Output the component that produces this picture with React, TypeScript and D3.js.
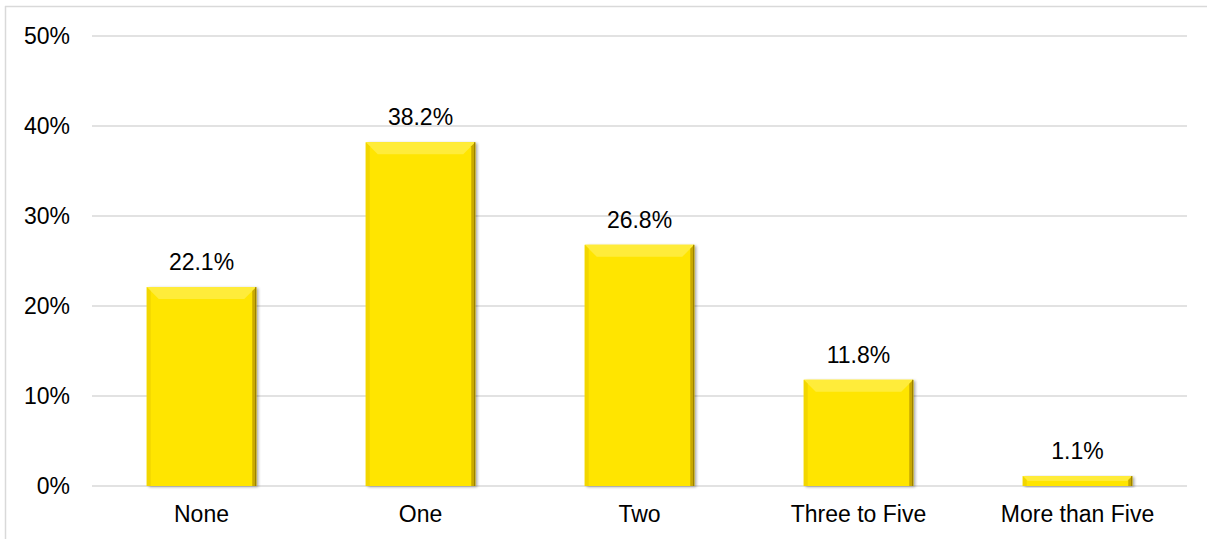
import React from "react";
import * as d3 from "d3";

const categories = ["None", "One", "Two", "Three to Five", "More than Five"];
const values = [22.1, 38.2, 26.8, 11.8, 1.1];
const yTicks = [0, 10, 20, 30, 40, 50];

const W = 1207;
const H = 539;
const M = { left: 92, right: 20, top: 36, bottom: 53 };

export default function App() {
  const x = d3
    .scaleBand<string>()
    .domain(categories)
    .range([M.left, W - M.right])
    .paddingInner(0.5)
    .paddingOuter(0.25);
  const y = d3.scaleLinear().domain([0, 50]).range([H - M.bottom, M.top]);
  const font = "'Liberation Sans', Arial, sans-serif";
  const fs = 23;

  return (
    <svg
      width={W}
      height={H}
      style={{ position: "absolute", left: 0, top: 0, background: "#fff" }}
      fontFamily={font}
    >
      <defs>
        <filter id="sh" x="-20%" y="-20%" width="140%" height="140%">
          <feGaussianBlur in="SourceAlpha" stdDeviation="1.5" />
          <feOffset dx="1.5" dy="1" result="b" />
          <feComponentTransfer>
            <feFuncA type="linear" slope="0.35" />
          </feComponentTransfer>
          <feMerge>
            <feMergeNode />
            <feMergeNode in="SourceGraphic" />
          </feMerge>
        </filter>
      </defs>
      {/* frame */}
      <line x1={5.5} x2={5.5} y1={6} y2={H} stroke="#d9d9d9" strokeWidth={1.5} />
      <line x1={5} x2={W} y1={6.5} y2={6.5} stroke="#d9d9d9" strokeWidth={1.5} />
      {/* gridlines */}
      {yTicks.map((t) => (
        <g key={t}>
          <line
            x1={M.left}
            x2={W - M.right}
            y1={y(t)}
            y2={y(t)}
            stroke="#d9d9d9"
            strokeWidth={1.5}
          />
          <text
            x={70}
            y={y(t) + 7.5}
            textAnchor="end"
            fontSize={fs}
            fill="#000"
          >
            {t}%
          </text>
        </g>
      ))}
      {/* bars */}
      {categories.map((c, i) => {
        const x0 = x(c)!;
        const bw = x.bandwidth();
        const y0 = y(values[i]);
        const y1 = y(0);
        const h = y1 - y0;
        const bv = Math.min(12, h / 2);
        const side = Math.min(4, bw / 4);
        return (
          <g key={c}>
            <rect x={x0} y={y0} width={bw} height={h} fill="#ffe500" filter="url(#sh)" />
            {/* top bevel */}
            <polygon
              points={`${x0},${y0} ${x0 + bw},${y0} ${x0 + bw - bv},${y0 + bv} ${x0 + bv},${y0 + bv}`}
              fill="#ffec3a"
            />
            {/* left edge */}
            <polygon
              points={`${x0},${y0} ${x0 + side},${y0 + Math.min(side, h)} ${x0 + side},${y1} ${x0},${y1}`}
              fill="#f2d600"
            />
            {/* right edge */}
            <polygon
              points={`${x0 + bw},${y0} ${x0 + bw - side},${y0 + Math.min(side, h)} ${x0 + bw - side},${y1} ${x0 + bw},${y1}`}
              fill="#c9a900"
            />
            <line x1={x0 + bw - 0.5} x2={x0 + bw - 0.5} y1={y0} y2={y1} stroke="#8c7600" strokeWidth={1} />
            <text
              x={x0 + bw / 2}
              y={y0 - 17}
              textAnchor="middle"
              fontSize={fs}
              fill="#000"
            >
              {values[i].toFixed(1)}%
            </text>
            <text
              x={x0 + bw / 2}
              y={y1 + 36}
              textAnchor="middle"
              fontSize={fs}
              fill="#000"
            >
              {c}
            </text>
          </g>
        );
      })}
    </svg>
  );
}
